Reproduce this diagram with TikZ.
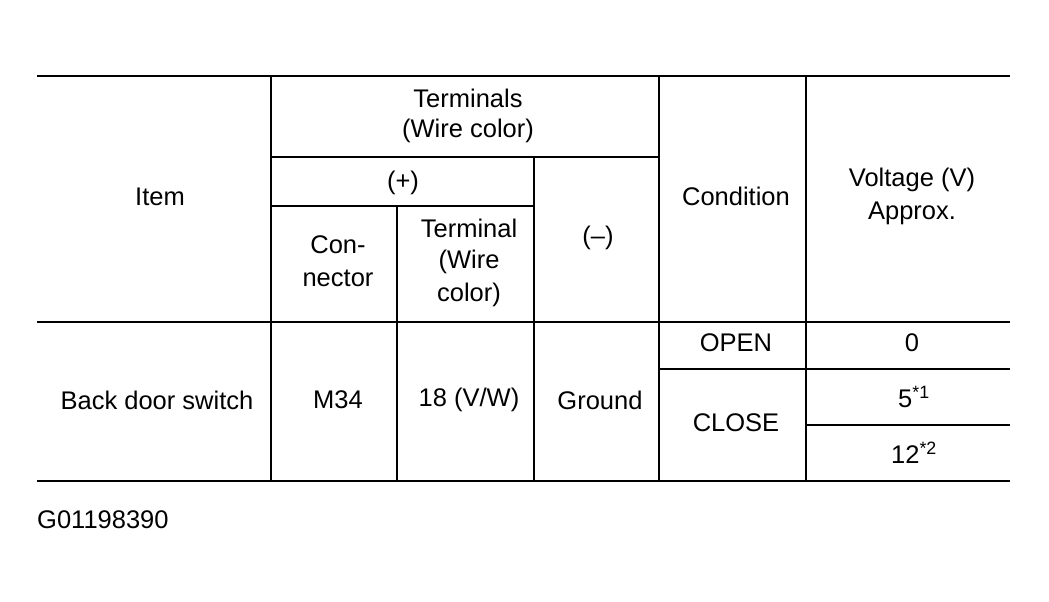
\documentclass[tikz,border=0pt]{standalone}
\usepackage{fontspec}
\setmainfont{Liberation Sans}
\begin{document}
\begin{tikzpicture}[x=1pt,y=-1pt,
  t/.style={font=\fontsize{25.5}{28}\selectfont,inner sep=0pt,align=center},
  thin/.style={line width=1.2pt},
  thick/.style={line width=2.6pt}]
\useasboundingbox (0,0) rectangle (1049,602);
\draw[thick] (37,76) -- (1010,76);
\draw[thick] (37,481) -- (1010,481);
\draw[thin] (37,322) -- (1010,322);
\foreach \x in {271,659,806} \draw[thin] (\x,76) -- (\x,481);
\draw[thin] (397,206) -- (397,481);
\draw[thin] (534,157) -- (534,481);
\draw[thin] (271,157) -- (659,157);
\draw[thin] (271,206) -- (534,206);
\draw[thin] (659,369) -- (1010,369);
\draw[thin] (806,425) -- (1010,425);
\node[t] (a) at (468,98) {Terminals};
\node[t] (b) at (468,131) {(Wire color)};
\node[t] (c) at (160,197) {Item};
\node[t] (d) at (403,183) {(+)};
\node[t] (e) at (338,245) {Con-};
\node[t] (f) at (338,278) {nector};
\node[t] (g) at (469,228) {Terminal};
\node[t] (h) at (469,262) {(Wire};
\node[t] (i) at (469,295) {color)};
\node[t] (j) at (598,238) {(–)};
\node[t] (k) at (736,196) {Condition};
\node[t] (l) at (912,180) {Voltage (V)};
\node[t] (m) at (912,213) {Approx.};
\node[t] (n) at (736,343) {OPEN};
\node[t] (o) at (912,343) {0};
\node[t] (p) at (157,400) {Back door switch};
\node[t] (q) at (338,400) {M34};
\node[t] (r) at (469,400) {18 (V/W)};
\node[t] (s) at (600,400) {Ground};
\node[t] (u) at (736,423) {CLOSE};
\node[t] (v) at (914,397) {5\textsuperscript{*1}};
\node[t] (w) at (914,453) {12\textsuperscript{*2}};
\node[t,anchor=west] (z) at (37,520) {G01198390};
\end{tikzpicture}
\end{document}
